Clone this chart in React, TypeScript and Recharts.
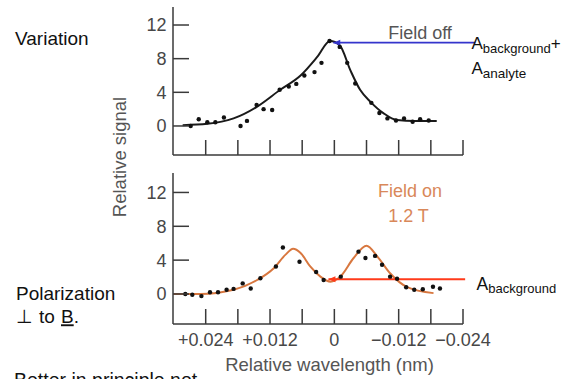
import React from 'react';
import { ComposedChart, Line, Scatter, XAxis, YAxis, ReferenceLine } from 'recharts';

// ---- tick values / labels ----
const X_TICKS = [0.024, 0.018, 0.012, 0.006, 0, -0.006, -0.012, -0.018, -0.024];
const X_TICK_LABELS = ['+0.024', '', '+0.012', '', '0', '', '\u22120.012', '', '\u22120.024'];
const Y_TICKS = [0, 4, 8, 12];
const X_DOMAIN: [number, number] = [-0.024, 0.0301];
const TOP_Y_DOMAIN: [number, number] = [-3.45, 14.14];
const BOTTOM_Y_DOMAIN: [number, number] = [-3.55, 14.3];

// ---- field off (top panel): [relative wavelength nm, relative signal] ----
const FIELD_OFF_POINTS = [
  [0.0268, 0.0], [0.0253, 0.8], [0.0237, 0.45], [0.0222, 0.45], [0.0206, 1.0],
  [0.0175, 0.0], [0.0163, 0.6], [0.0145, 2.5], [0.0132, 2.0], [0.0116, 1.9],
  [0.0102, 4.3], [0.0085, 4.7], [0.0071, 5.0], [0.0056, 6.0], [0.0037, 6.4],
  [0.0024, 7.5], [0.0009, 10.1], [-0.001, 9.4], [-0.0024, 7.5], [-0.0039, 5.05],
  [-0.0069, 2.75], [-0.0084, 1.55], [-0.0099, 0.9], [-0.0115, 0.65], [-0.013, 0.9],
  [-0.0146, 0.5], [-0.016, 0.8], [-0.0176, 0.65],
];
const FIELD_OFF_FIT = [
  [0.0283, 0.1], [0.0237, 0.25], [0.0188, 0.9], [0.0144, 2.3], [0.0101, 4.3],
  [0.0063, 6.0], [0.0032, 8.2], [0.0008, 10.1], [-0.001, 9.6], [-0.003, 6.6],
  [-0.0048, 4.3], [-0.0067, 2.9], [-0.0092, 1.5], [-0.0117, 0.7], [-0.015, 0.6],
  [-0.0191, 0.6],
];

// ---- field on 1.2 T (bottom panel) ----
const FIELD_ON_POINTS = [
  [0.0278, 0.0], [0.0265, -0.1], [0.0248, -0.25], [0.0232, 0.2], [0.0217, 0.2],
  [0.0201, 0.5], [0.0188, 0.6], [0.0171, 1.25], [0.0156, 0.65], [0.0138, 1.85],
  [0.0109, 3.25], [0.0096, 5.5], [0.0065, 3.8], [0.0034, 2.6], [0.002, 1.65],
  [-0.0012, 2.05], [-0.0045, 5.0], [-0.0058, 4.25], [-0.0076, 4.5], [-0.0089, 3.45],
  [-0.0104, 2.05], [-0.0117, 1.8], [-0.0134, 0.8], [-0.0149, 0.5], [-0.0165, 0.55],
  [-0.0184, 0.85], [-0.0197, 0.65],
];
const FIELD_ON_FIT = [
  [0.03, 0.0], [0.025, 0.0], [0.0188, 0.5], [0.0144, 1.65], [0.0113, 3.05],
  [0.0091, 4.65], [0.0077, 5.35], [0.0063, 4.85], [0.0045, 3.25], [0.0026, 2.05],
  [0.0007, 1.45], [-0.0011, 2.05], [-0.0036, 4.25], [-0.006, 5.7], [-0.008, 4.45],
  [-0.0104, 2.45], [-0.0135, 0.85], [-0.0185, 0.1],
];

// ---- annotation levels ----
const FIELD_OFF_LEVEL = 9.9;
const FIELD_OFF_ARROW = [0.0002, -0.0263];
const FIELD_ON_LEVEL = 1.74;
const FIELD_ON_ARROW = [0.0011, -0.0244];

const toRows = (pairs: number[][]) => pairs.map(([w, v]) => ({ w, v }));

const FONT = '"Liberation Sans", Arial, Helvetica, sans-serif';
const AXIS = '#3a3a3a';
const TICK_TXT = '#474747';
const LABEL_TXT = '#555555';
const ORANGE = '#d8773f';
const ORANGE_TXT = '#d9885a';

function YTick(props: any) {
  const { x, y, payload } = props;
  return (
    <g>
      <line x1={x} x2={x + 16} y1={y} y2={y} stroke={AXIS} strokeWidth={1.5} />
      <text x={x - 6.5} y={y} dy={6.4} textAnchor="end" fontSize={18} fill={TICK_TXT} fontFamily={FONT}>
        {payload.value}
      </text>
    </g>
  );
}

function makeXTick(showLabels: boolean) {
  return function XTick(props: any) {
    const { x, y, index } = props;
    const label = X_TICK_LABELS[index] ?? '';
    return (
      <g>
        <line x1={x} x2={x} y1={y} y2={y - 15} stroke={AXIS} strokeWidth={1.5} />
        {showLabels && label !== '' ? (
          <text x={x} y={y + 22} textAnchor="middle" fontSize={18} fill={TICK_TXT} fontFamily={FONT}>
            {label}
          </text>
        ) : null}
      </g>
    );
  };
}

const Dot = (props: any) => <circle cx={props.cx} cy={props.cy} r={2.2} fill="#111" />;

function arrowShape(color: string) {
  return (p: any) => (
    <g>
      <line x1={p.x1} y1={p.y1} x2={p.x2} y2={p.y2} stroke={color} strokeWidth={1.8} />
      <polygon points={`${p.x1},${p.y1} ${p.x1 + 7},${p.y1 - 3} ${p.x1 + 7},${p.y1 + 3}`} fill={color} />
    </g>
  );
}

function Panel(props: {
  top: number; height: number; marginTop: number; xAxisHeight: number;
  yDomain: [number, number]; points: number[][]; fit: number[][]; fitColor: string;
  showXLabels: boolean; level: number; arrow: number[]; arrowColor: string;
}) {
  const { top, height, marginTop, xAxisHeight, yDomain, points, fit, fitColor, showXLabels, level, arrow, arrowColor } = props;
  return (
    <div style={{ position: 'absolute', left: 0, top, width: 573, height }}>
      <ComposedChart width={573} height={height} margin={{ top: marginTop, right: 110, bottom: 0, left: 113 }}>
        <XAxis
          type="number" dataKey="w" domain={X_DOMAIN} reversed ticks={X_TICKS} interval={0}
          allowDataOverflow height={xAxisHeight} tickSize={0} tickMargin={0} tickLine={false}
          axisLine={{ stroke: AXIS, strokeWidth: 1.5 }} tick={makeXTick(showXLabels)}
        />
        <YAxis
          type="number" dataKey="v" domain={yDomain} ticks={Y_TICKS} interval={0} allowDataOverflow
          width={60} tickSize={0} tickMargin={0} tickLine={false}
          axisLine={{ stroke: AXIS, strokeWidth: 1.5 }} tick={<YTick />}
        />
        <Line data={toRows(fit)} dataKey="v" type="monotone" stroke={fitColor} strokeWidth={2}
          dot={false} activeDot={false} isAnimationActive={false} />
        <Scatter data={toRows(points)} dataKey="v" shape={Dot} isAnimationActive={false} />
        <ReferenceLine
          segment={[{ x: arrow[0], y: level }, { x: arrow[1], y: level }]}
          ifOverflow="visible" shape={arrowShape(arrowColor)}
        />
      </ComposedChart>
    </div>
  );
}

export default function App() {
  return (
    <div style={{ position: 'absolute', left: 0, top: 0, width: 573, height: 379, overflow: 'hidden', background: '#fff', fontFamily: FONT }}>
      <Panel top={0} height={186} marginTop={7} xAxisHeight={31} yDomain={TOP_Y_DOMAIN}
        points={FIELD_OFF_POINTS} fit={FIELD_OFF_FIT} fitColor="#1a1a1a" showXLabels={false}
        level={FIELD_OFF_LEVEL} arrow={FIELD_OFF_ARROW} arrowColor="#3535cc" />
      <Panel top={160} height={219} marginTop={13} xAxisHeight={55} yDomain={BOTTOM_Y_DOMAIN}
        points={FIELD_ON_POINTS} fit={FIELD_ON_FIT} fitColor={ORANGE} showXLabels={true}
        level={FIELD_ON_LEVEL} arrow={FIELD_ON_ARROW} arrowColor="#ff3a1a" />
      <svg width={573} height={379} style={{ position: 'absolute', left: 0, top: 0, pointerEvents: 'none' }} fontFamily={FONT}>
        <text x={125.5} y={157} transform="rotate(-90 125.5 157)" textAnchor="middle" fontSize={18.5} fill={LABEL_TXT}>Relative signal</text>
        <text x={329.5} y={371} textAnchor="middle" fontSize={18.5} fill={LABEL_TXT}>Relative wavelength (nm)</text>
        <text x={420} y={39} textAnchor="middle" fontSize={18} fill={LABEL_TXT}>Field off</text>
        <text x={410} y={197} textAnchor="middle" fontSize={18} fill={ORANGE_TXT}>Field on</text>
        <text x={408.5} y={222} textAnchor="middle" fontSize={18} fill={ORANGE_TXT}>1.2 T</text>
        <text x={471.5} y={49} fontSize={17} fill="#111">A<tspan fontSize={13} dy={4}>background</tspan><tspan fontSize={17} dy={-4}>+</tspan></text>
        <text x={471.5} y={73.5} fontSize={17} fill="#111">A<tspan fontSize={13.5} dy={4}>analyte</tspan></text>
        <text x={476.5} y={289.5} fontSize={17.5} fill="#111">A<tspan fontSize={13} dy={3.5}>background</tspan></text>
        <text x={15} y={45} fontSize={19} fill="#111">Variation</text>
        <text x={16} y={300} fontSize={19} fill="#111">Polarization</text>
        <text y={323.3} fontSize={19} fill="#111">
          <tspan x={16}>⊥</tspan>
          <tspan x={39}>to</tspan>
          <tspan x={61} style={{ textDecoration: 'underline' }}>B</tspan>
          <tspan>.</tspan>
        </text>
        <text x={14} y={387} fontSize={19.5} fill="#111">Better in principle not</text>
      </svg>
    </div>
  );
}
